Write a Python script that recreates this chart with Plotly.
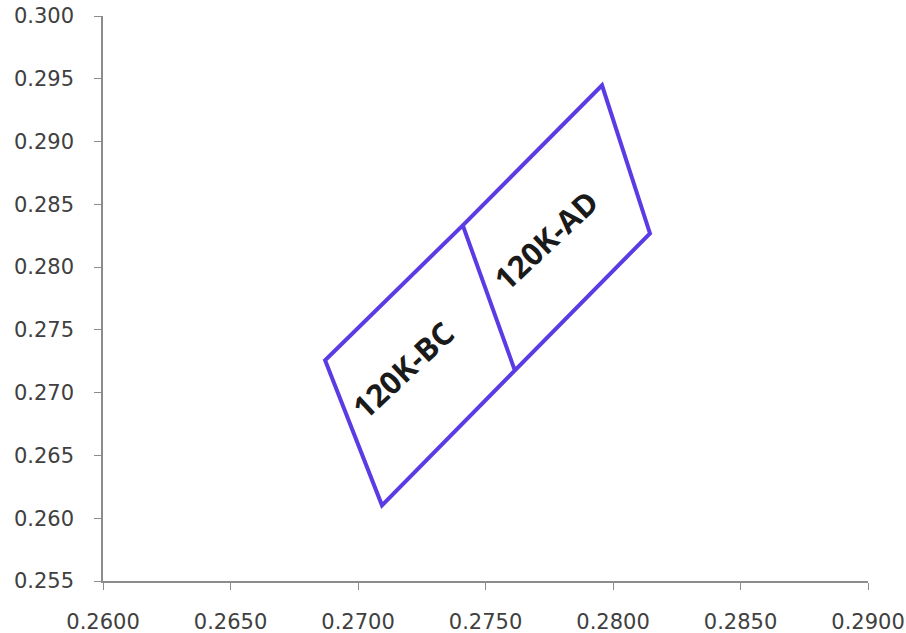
import plotly.graph_objects as go

# Parallelogram outline (traced path)
outline_x = [0.27411, 0.27957, 0.28145, 0.27615, 0.27094, 0.26871, 0.27411, 0.27615]
outline_y = [0.28333, 0.29448, 0.28269, 0.27178, 0.26103, 0.27258, 0.28333, 0.27178]

label_text = ["120K-BC", "120K-AD"]
label_x = [0.27176, 0.27737]
label_y = [0.27178, 0.28213]

x_ticks = [0.260, 0.265, 0.270, 0.275, 0.280, 0.285, 0.290]
y_ticks = [0.255, 0.260, 0.265, 0.270, 0.275, 0.280, 0.285, 0.290, 0.295, 0.300]

fig = go.Figure()
fig.add_trace(go.Scatter(x=outline_x, y=outline_y, mode="lines",
                         line=dict(color="#5b3be4", width=4), showlegend=False,
                         hoverinfo="skip"))

for t, x, y in zip(label_text, label_x, label_y):
    fig.add_annotation(x=x, y=y, xref="x", yref="y", text="<b>" + t + "</b>",
                       showarrow=False, textangle=-43,
                       font=dict(family="Open Sans", size=31, color="#1a1a1a"))

tickfont = dict(family="DejaVu Sans", size=21, color="#404040")
fig.update_xaxes(range=[0.26, 0.29], tickvals=x_ticks,
                 ticktext=[f"{v:.4f}" for v in x_ticks],
                 showgrid=False, zeroline=False, showline=True, linecolor="#8c8c8c",
                 linewidth=1.5, ticks="outside", ticklen=7, tickcolor="#8c8c8c",
                 tickfont=tickfont, ticklabelstandoff=14, automargin=False,
                 ticklabeloverflow="allow")
fig.update_yaxes(range=[0.255, 0.300], tickvals=y_ticks,
                 ticktext=[f"{v:.3f}" for v in y_ticks],
                 showgrid=False, zeroline=False, showline=True, linecolor="#8c8c8c",
                 linewidth=1.5, ticks="outside", ticklen=7, tickcolor="#8c8c8c",
                 tickfont=tickfont, ticklabelstandoff=16, automargin=False,
                 ticklabeloverflow="allow")

fig.update_layout(width=906, height=633, plot_bgcolor="white", paper_bgcolor="white",
                  margin=dict(l=103, r=38, t=16, b=52, autoexpand=False))

fig.write_html("out.html", config={"displayModeBar": False},
               post_script="document.body.style.margin='0';"
                           "document.body.style.overflow='hidden';")
